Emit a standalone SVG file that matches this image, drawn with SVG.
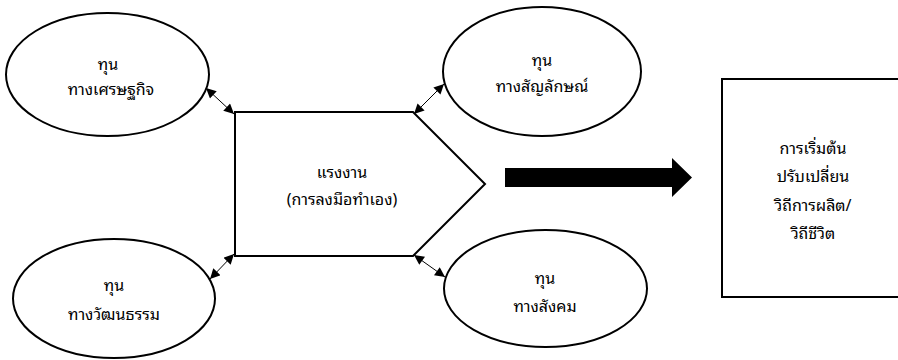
<svg xmlns="http://www.w3.org/2000/svg" width="898" height="360" viewBox="0 0 898 360">
<defs>
<style>
.node{fill:#fff;stroke:#000;stroke-width:2}
.lbl{font-family:"Noto Sans Thai Looped","Noto Sans Thai","Tahoma","Noto Sans","DejaVu Sans",sans-serif;font-size:16px;font-weight:normal;fill:#000;text-anchor:middle}
.conn{stroke:#000;stroke-width:1;fill:none;marker-start:url(#ah);marker-end:url(#ah)}
</style>
<marker id="ah" viewBox="0 0 10 10" refX="10" refY="5" markerWidth="11" markerHeight="10" markerUnits="userSpaceOnUse" orient="auto-start-reverse">
<path d="M0,0 L10,5 L0,10 Z" fill="#000"/>
</marker>
</defs>
<rect width="898" height="360" fill="#fff"/>
<g id="econ">
<ellipse class="node" cx="107.5" cy="74.5" rx="101.5" ry="61.5"/>
<text class="lbl" x="108" y="70">ทุน</text>
<text class="lbl" x="111" y="95">ทางเศรษฐกิจ</text>
</g>
<g id="culture">
<ellipse class="node" cx="114" cy="298.5" rx="101" ry="59.5"/>
<text class="lbl" x="114" y="291">ทุน</text>
<text class="lbl" x="114" y="320">ทางวัฒนธรรม</text>
</g>
<g id="symbol">
<ellipse class="node" cx="542" cy="71.5" rx="99" ry="64.5"/>
<text class="lbl" x="542" y="66">ทุน</text>
<text class="lbl" x="542" y="92">ทางสัญลักษณ์</text>
</g>
<g id="social">
<ellipse class="node" cx="545.5" cy="288.5" rx="101.5" ry="58.5"/>
<text class="lbl" x="545" y="284">ทุน</text>
<text class="lbl" x="545" y="312">ทางสังคม</text>
</g>
<g id="labour">
<polygon class="node" points="235,112 413,112 485,184 413,256 235,256"/>
<text class="lbl" x="342" y="178">แรงงาน</text>
<text class="lbl" x="342" y="205">(การลงมือทำเอง)</text>
</g>
<g id="result">
<rect class="node" x="722" y="79" width="190" height="218"/>
<text class="lbl" x="813" y="154">การเริ่มต้น</text>
<text class="lbl" x="813" y="182">ปรับเปลี่ยน</text>
<text class="lbl" x="813" y="211">วิถีการผลิต/</text>
<text class="lbl" x="813" y="239">วิถีชีวิต</text>
</g>
<g id="connectors">
<line class="conn" x1="234" y1="114" x2="206" y2="88"/>
<line class="conn" x1="414" y1="114" x2="444" y2="84"/>
<line class="conn" x1="234" y1="254" x2="210" y2="279"/>
<line class="conn" x1="414" y1="255" x2="445" y2="277"/>
<polygon points="505,168 672,168 672,158 692,177.5 672,197 672,187 505,187" fill="#000"/>
</g>
</svg>
